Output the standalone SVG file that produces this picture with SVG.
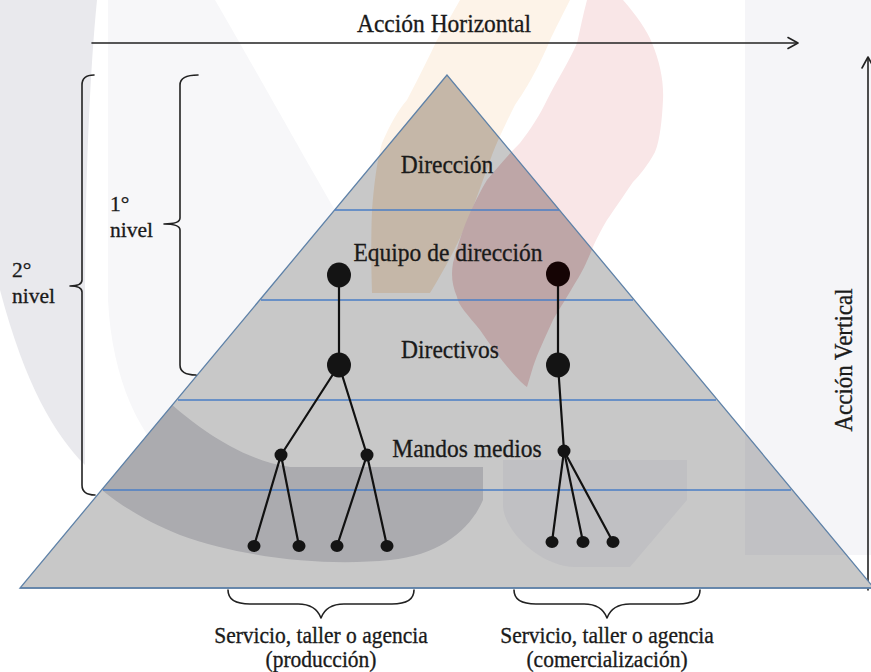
<svg xmlns="http://www.w3.org/2000/svg" width="871" height="672" viewBox="0 0 871 672">
  <style>
    .lbl { font-family: "Liberation Serif", "DejaVu Serif", "Noto Serif", "Times New Roman", Times, serif; fill: #1a1a1a; stroke: #1a1a1a; stroke-width: 0.3; }
    .mid { text-anchor: middle; }
    .ink { fill: none; stroke: #222; stroke-width: 1.6; stroke-linecap: round; stroke-linejoin: round; }
    .level { stroke: #4a7ec6; stroke-width: 1.5; }
    .edge { fill: none; stroke: #111; stroke-width: 2.2; stroke-linecap: round; }
    .node { fill: #141414; }
  </style>
  <defs>
    <!-- pale background motifs -->
    <path id="bandLeft" d="M0,0 H97 C89,80 85,200 85,300 V465 C55,435 25,385 0,290 Z"/>
    <path id="discLeft" d="M108,0 H215 C250,60 300,150 335,210 V470 H180 C140,440 112,380 108,300 Z"/>
    <path id="bandRight" d="M745,0 H871 V555 H745 Z"/>
    <path id="flameOrange" d="M460,0 H570 C560,20 552,35 548,45 C535,75 522,95 515,105 C505,125 498,140 492,155 C483,180 476,200 470,215 C458,245 444,270 430,293 H372 C371,260 371,235 372,210 C374,185 377,160 382,143 C390,125 398,110 407,100 C420,75 430,55 437,40 C446,25 453,12 460,0 Z"/>
    <path id="flamePink" d="M587,0 H623 C636,15 647,30 652,43 C660,62 664,82 663,100 C662,120 660,140 655,152 C648,165 640,175 633,182 C622,198 614,210 607,220 C600,232 596,240 593,247 C587,262 582,272 577,280 C567,297 560,308 553,320 C545,338 538,352 533,367 L527,387 C515,378 497,355 480,330 C468,315 458,305 457,297 C452,285 451,275 453,263 C458,245 463,228 470,213 C476,200 481,190 487,180 C497,168 508,155 520,143 C530,130 540,115 547,100 C557,80 570,60 577,43 C580,30 583,15 587,0 Z"/>
    <path id="shadeLow" d="M150,380 L170,403 C195,425 240,460 290,467 H483 V500 C470,530 440,555 390,560 C330,566 250,560 180,535 C130,515 100,490 80,470 Z"/>
    <path id="shadeMid" d="M503,460 H687 V500 L630,567 H575 C540,567 503,530 503,505 Z"/>
    <clipPath id="pyrClip">
      <polygon points="447,75 20,588 874,588"/>
    </clipPath>
  </defs>

  <!-- page -->
  <rect x="0" y="0" width="871" height="672" fill="#ffffff"/>
  <g id="backdrop">
    <use href="#bandLeft" fill="#e9e9ed"/>
    <use href="#discLeft" fill="#f7f7f9"/>
    <use href="#bandRight" fill="#f5f5f8"/>
    <use href="#flameOrange" fill="#fdf3e8"/>
    <use href="#flamePink" fill="#f9e6e7"/>
  </g>

  <!-- axes -->
  <g id="axis-horizontal">
    <line class="ink" x1="92" y1="43" x2="797" y2="43"/>
    <polyline class="ink" points="788,37.5 798,43 788,48.5"/>
    <text class="lbl mid" font-size="23.5" transform="translate(444,32) scale(1,1.1)">Acción Horizontal</text>
  </g>
  <g id="axis-vertical">
    <line class="ink" x1="868" y1="58" x2="868" y2="590"/>
    <polyline class="ink" points="862,68 868,57 874,68"/>
    <text class="lbl mid" font-size="23" transform="translate(852,360) rotate(-90) scale(1,1.1)">Acción Vertical</text>
  </g>

  <!-- pyramid -->
  <g id="pyramid">
    <polygon points="447,75 20,588 874,588" fill="#c8c8c8"/>
    <g clip-path="url(#pyrClip)">
      <use href="#bandRight" fill="#c1c1c4"/>
      <use href="#flameOrange" fill="#c5b7a8"/>
      <use href="#flamePink" fill="#bea6a7"/>
      <use href="#shadeLow" fill="#ababaf"/>
      <use href="#shadeMid" fill="#c0c0c3"/>
    </g>
    <polygon points="447,75 20,588 874,588" fill="none" stroke="#5f82a8" stroke-width="1.3"/>
    <line class="level" x1="335" y1="210" x2="559" y2="210"/>
    <line class="level" x1="261" y1="300" x2="633" y2="300"/>
    <line class="level" x1="178" y1="400" x2="716" y2="400"/>
    <line class="level" x1="103" y1="490" x2="791" y2="490"/>
    <line x1="20" y1="588" x2="871" y2="588" stroke="#5f82a8" stroke-width="1.5"/>
  </g>

  <!-- level names -->
  <g id="level-direccion"><text class="lbl mid" font-size="23.5" transform="translate(447,173) scale(1,1.1)">Dirección</text></g>
  <g id="level-equipo"><text class="lbl mid" font-size="23.5" transform="translate(448,261) scale(1,1.1)">Equipo de dirección</text></g>
  <g id="level-directivos"><text class="lbl mid" font-size="23.5" transform="translate(450,358) scale(1,1.1)">Directivos</text></g>
  <g id="level-mandos"><text class="lbl mid" font-size="23.5" transform="translate(467,457) scale(1,1.1)">Mandos medios</text></g>

  <!-- side brackets -->
  <g id="bracket-1">
    <path class="ink" d="M198,75 Q180,75 180,85 V218 Q180,224 164,224 Q180,224 180,230 V365 Q180,375 196,375"/>
    <text class="lbl" font-size="21.5" x="110" y="211">1°</text>
    <text class="lbl" font-size="21.5" x="110" y="237">nivel</text>
  </g>
  <g id="bracket-2">
    <path class="ink" d="M94,75 Q82,75 82,85 V280 Q82,286 70,286 Q82,286 82,292 V485 Q82,495 95,495"/>
    <text class="lbl" font-size="21.5" x="12" y="277">2°</text>
    <text class="lbl" font-size="21.5" x="12" y="303">nivel</text>
  </g>

  <!-- organisation trees -->
  <g id="connectors">
    <line class="edge" x1="339" y1="275" x2="339" y2="365"/>
    <line class="edge" x1="339" y1="365" x2="281" y2="455"/>
    <line class="edge" x1="339" y1="365" x2="367" y2="455"/>
    <line class="edge" x1="281" y1="455" x2="254" y2="546"/>
    <line class="edge" x1="281" y1="455" x2="299" y2="546"/>
    <line class="edge" x1="367" y1="455" x2="337" y2="546"/>
    <line class="edge" x1="367" y1="455" x2="387" y2="546"/>
    <line class="edge" x1="558" y1="274" x2="558" y2="365"/>
    <line class="edge" x1="558" y1="365" x2="564" y2="451"/>
    <line class="edge" x1="564" y1="451" x2="552" y2="542"/>
    <line class="edge" x1="564" y1="451" x2="583" y2="542"/>
    <line class="edge" x1="564" y1="451" x2="613" y2="542"/>
  </g>
  <g id="tree-production">
    <ellipse class="node" cx="339" cy="275" rx="12" ry="12.5"/>
    <ellipse class="node" cx="339" cy="365" rx="12" ry="12.5"/>
    <ellipse class="node" cx="281" cy="455" rx="6.5" ry="6.5"/>
    <ellipse class="node" cx="367" cy="455" rx="6.5" ry="6.5"/>
    <ellipse class="node" cx="254" cy="546" rx="6.5" ry="6"/>
    <ellipse class="node" cx="299" cy="546" rx="6.5" ry="6"/>
    <ellipse class="node" cx="337" cy="546" rx="6.5" ry="6"/>
    <ellipse class="node" cx="387" cy="546" rx="6.5" ry="6"/>
  </g>
  <g id="tree-commercial">
    <ellipse cx="558" cy="274" rx="12" ry="12.5" fill="#150404"/>
    <ellipse class="node" cx="558" cy="365" rx="12" ry="12.5"/>
    <ellipse class="node" cx="564" cy="451" rx="6.5" ry="6.5"/>
    <ellipse class="node" cx="552" cy="542" rx="6.5" ry="6"/>
    <ellipse class="node" cx="583" cy="542" rx="6.5" ry="6"/>
    <ellipse class="node" cx="613" cy="542" rx="6.5" ry="6"/>
  </g>

  <!-- bottom braces -->
  <g id="brace-production">
    <path class="ink" d="M228,590 C228,600 236,604 250,604 H298 C311,604 318,610 321,618 C324,610 331,604 344,604 H392 C406,604 414,600 414,590"/>
    <text class="lbl mid" font-size="21.5" transform="translate(321,643) scale(1,1.1)">Servicio, taller o agencia</text>
    <text class="lbl mid" font-size="21.5" transform="translate(321,667) scale(1,1.1)">(producción)</text>
  </g>
  <g id="brace-commercial">
    <path class="ink" d="M514,590 C514,600 522,604 536,604 H584 C597,604 604,610 607,618 C610,610 617,604 630,604 H678 C692,604 700,600 700,590"/>
    <text class="lbl mid" font-size="21.5" transform="translate(607,643) scale(1,1.1)">Servicio, taller o agencia</text>
    <text class="lbl mid" font-size="21.5" transform="translate(607,667) scale(1,1.1)">(comercialización)</text>
  </g>
</svg>
